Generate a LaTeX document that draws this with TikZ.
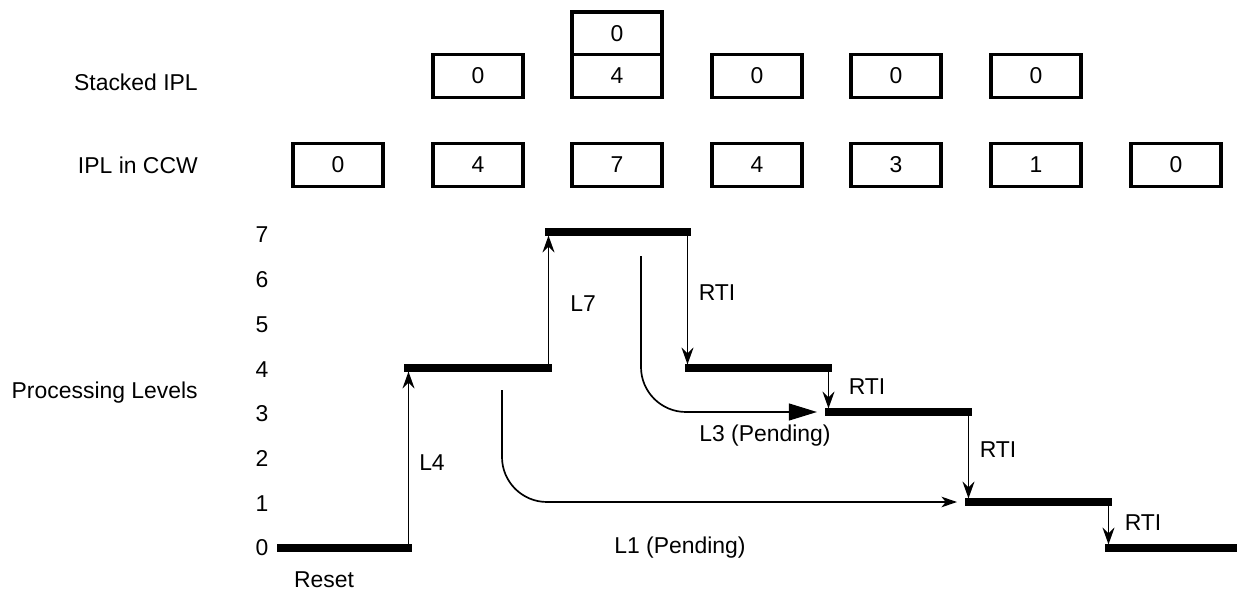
\documentclass[tikz,border=0pt]{standalone}
\usepackage{fontspec}
\setmainfont{Liberation Sans}
\usetikzlibrary{arrows.meta}
\tikzset{
    ipl/.style ={
        rectangle,
        minimum width =64pt,
        minimum height =30.3pt,
        inner sep=0pt,
        line width=2.4pt,
        draw=black,
        font=\fontsize{16.3}{19}\selectfont
    },
    lbl/.style ={font=\fontsize{16.3}{19}\selectfont, inner sep=0pt},
    bar/.style ={line width=5pt},
    rise/.style ={line width=1.4pt, shorten >=2.5pt,
        -{Stealth[length=12pt,width=8.5pt,inset=4pt]}},
    pend/.style ={line width=1.2pt, rounded corners=32pt, shorten >=5.7pt}
}

\begin{document}
\begin{tikzpicture}[x=0.025cm,y=-0.025cm]
        \useasboundingbox (0,0) rectangle (1239,592);
        % row labels
        \node[lbl,anchor=east] (stk) at (198,82) {Stacked IPL};
        \node[lbl,anchor=east] (ccw) at (198,165) {IPL in CCW};
        \node[lbl,anchor=east] (proc) at (198,393) {Processing Levels};
        % stacked IPL
        \node[ipl] (s1) at (478,76) {0};
        \node[ipl] (s2) at (617,76) {4};
        \node[ipl] (s2top) at (617,33.4) {0};
        \node[ipl] (s3) at (757,76) {0};
        \node[ipl] (s4) at (896,76) {0};
        \node[ipl] (s5) at (1036,76) {0};
        % IPL in CCW
        \node[ipl] (c1) at (338,165) {0};
        \node[ipl] (c2) at (478,165) {4};
        \node[ipl] (c3) at (617,165) {7};
        \node[ipl] (c4) at (757,165) {4};
        \node[ipl] (c5) at (896,165) {3};
        \node[ipl] (c6) at (1036,165) {1};
        \node[ipl] (c7) at (1176,165) {0};
        % level numbers
        \foreach \n in {0,...,7}
            \node[lbl] (y\n) at (262,{548-44.7*\n}) {\n};
        % level bars
        \coordinate (b0s) at (277,548); \coordinate (b0e) at (412,548);
        \coordinate (b4s) at (404,368); \coordinate (b4e) at (552,368);
        \coordinate (b7s) at (545,232); \coordinate (b7e) at (691,232);
        \coordinate (d4s) at (685,368); \coordinate (d4e) at (832,368);
        \coordinate (d3s) at (825,412); \coordinate (d3e) at (972,412);
        \coordinate (d1s) at (965,502); \coordinate (d1e) at (1112,502);
        \coordinate (d0s) at (1105,548); \coordinate (d0e) at (1237,548);
        \draw[bar] (b0s)--(b0e);
        \draw[bar] (b4s)--(b4e);
        \draw[bar] (b7s)--(b7e);
        \draw[bar] (d4s)--(d4e);
        \draw[bar] (d3s)--(d3e);
        \draw[bar] (d1s)--(d1e);
        \draw[bar] (d0s)--(d0e);
        % interrupts and returns
        \coordinate (u4) at (408.5,548);
        \coordinate (u7) at (548.5,368);
        \coordinate (r7) at (687.5,232);
        \coordinate (r4) at (828.5,368);
        \coordinate (r3) at (968.5,412);
        \coordinate (r1) at (1108.5,502);
        \draw[rise] (u4)--(u4 |- b4s);
        \draw[rise] (u7)--(u7 |- b7s);
        \draw[rise] (r7)--(r7 |- d4s);
        \draw[rise] (r4)--(r4 |- d3s);
        \draw[rise] (r3)--(r3 |- d1s);
        \draw[rise] (r1)--(r1 |- d0s);
        % pending requests
        \coordinate (k3) at (641,256);
        \coordinate (k1) at (502,390);
        \draw[pend,-{Triangle[length=20pt,width=12pt]}] (k3) |- (d3s);
        \draw[pend,-{Stealth[length=11pt,width=7.5pt,inset=3pt]}] (k1) |- (d1s);
        % labels
        \node[lbl] (lfour) at (432,463) {L4};
        \node[lbl] (lseven) at (583,304) {L7};
        \node[lbl] (rti1) at (717,293) {RTI};
        \node[lbl] (rti2) at (867,387) {RTI};
        \node[lbl] (rti3) at (998,450) {RTI};
        \node[lbl] (rti4) at (1143,523) {RTI};
        \node[lbl] (lthree) at (765,436) {L3 (Pending)};
        \node[lbl] (lone) at (680,548) {L1 (Pending)};
        \node[lbl] (reset) at (324,580) {Reset};
    \end{tikzpicture}
\end{document}
